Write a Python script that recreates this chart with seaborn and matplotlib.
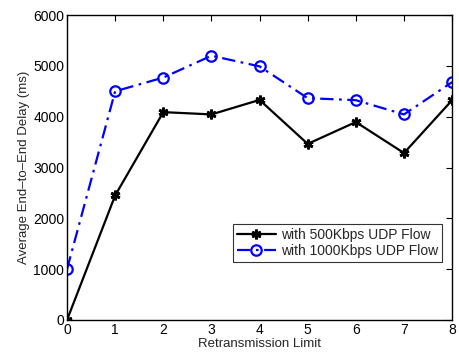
import matplotlib
matplotlib.use("Agg")
import matplotlib.pyplot as plt
import seaborn as sns
import pandas as pd

retx_limit = [0, 1, 2, 3, 4, 5, 6, 7, 8]
delay_500 = [0, 2450, 4090, 4045, 4330, 3465, 3895, 3285, 4325]
delay_1000 = [1000, 4500, 4770, 5200, 4990, 4365, 4325, 4045, 4680]
labels = ["with 500Kbps UDP Flow", "with 1000Kbps UDP Flow"]

sns.set_style("white")
plt.rcParams["font.family"] = ["Liberation Sans", "DejaVu Sans"]

fig = plt.figure(figsize=(4.59, 3.55), dpi=100)
ax = fig.add_axes([0.146, 0.0986, 0.839, 0.859])

df = pd.DataFrame({"x": retx_limit * 2,
                   "y": delay_500 + delay_1000,
                   "series": [labels[0]] * 9 + [labels[1]] * 9})

asterisk = (6, 2, 0)
dashdot = (6, 2.5, 1.2, 2.5)

sns.lineplot(data=df[df.series == labels[0]], x="x", y="y", ax=ax,
             color="black", lw=1.6, marker=asterisk, markersize=7,
             markeredgecolor="black", markeredgewidth=2.0, label=labels[0])
sns.lineplot(data=df[df.series == labels[1]], x="x", y="y", ax=ax,
             color="blue", lw=1.6, marker="o", markersize=7.5,
             markerfacecolor="none", markeredgecolor="blue",
             markeredgewidth=1.6, label=labels[1])
ax.lines[1].set_dashes(dashdot)

ax.set_xlim(0, 8)
ax.set_ylim(0, 6000)
ax.set_xticks(range(0, 9))
ax.set_yticks(range(0, 6001, 1000))
ax.set_xlabel("Retransmission Limit", fontsize=9.5, labelpad=1)
ax.set_ylabel("Average End\u2013to\u2013End Delay (ms)", fontsize=9.5, labelpad=2)
ax.tick_params(direction="in", top=True, right=True, labelsize=10,
               length=4, width=0.8, pad=2, colors="black")
for s in ax.spines.values():
    s.set_color("black")
    s.set_linewidth(1.0)

leg = ax.legend(loc="lower right", bbox_to_anchor=(0.975, 0.19), fontsize=10,
                frameon=True, fancybox=False, edgecolor="black",
                handlelength=2.8, borderpad=0.3, labelspacing=0.15,
                handletextpad=0.4, borderaxespad=0)
leg.get_frame().set_linewidth(0.8)
leg.get_lines()[1].set_dashes(dashdot)

fig.savefig("out.png", dpi=100)
